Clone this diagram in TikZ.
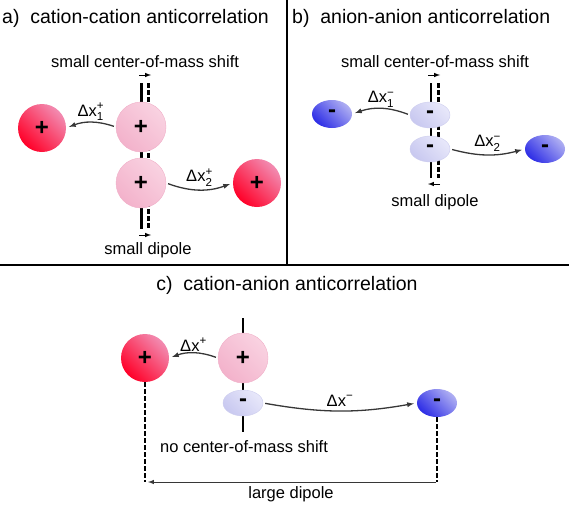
\documentclass[tikz,border=0pt]{standalone}
\usepackage{amsmath}
\usepackage{fontspec}
\setmainfont{Liberation Sans}
\usepackage{xcolor}
\usepackage{tikz}
\usetikzlibrary{arrows}
\usetikzlibrary{calc}
\usetikzlibrary{positioning}
\usetikzlibrary{shapes.geometric}

\definecolor{redlo}{RGB}{255,0,40}
\definecolor{redhi}{RGB}{242,140,178}
\definecolor{pinklo}{RGB}{243,178,203}
\definecolor{pinkhi}{RGB}{249,210,225}
\definecolor{pinkrim}{RGB}{240,175,200}
\definecolor{bluelo}{RGB}{45,45,230}
\definecolor{bluehi}{RGB}{175,175,242}
\definecolor{lavlo}{RGB}{200,200,240}
\definecolor{lavhi}{RGB}{232,232,250}
\definecolor{lavrim}{RGB}{205,205,238}
\definecolor{hopgray}{RGB}{55,55,55}

\newcommand{\ttlfont}{\fontsize{19.5}{22}\selectfont}
\newcommand{\lblfont}{\fontsize{16.5}{19}\selectfont}
\newcommand{\chgfont}{\fontsize{24}{24}\selectfont\bfseries}

\begin{document}
\begin{tikzpicture}
[
	x = 1pt, y = -1pt,
	cat/.style	= {circle, minimum size = 48pt, inner sep = 0pt, top color = redhi, bottom color = redlo, shading angle = -45, font = \chgfont},
	pcat/.style	= {circle, draw = pinkrim, minimum size = 50pt, inner sep = 0pt, top color = pinkhi, bottom color = pinklo, shading angle = -45, font = \chgfont},
	ani/.style	= {ellipse, minimum width = 40pt, minimum height = 28pt, inner sep = 0pt, top color = bluehi, bottom color = bluelo, shading angle = -45, font = \chgfont},
	pani/.style	= {ellipse, draw = lavrim, minimum width = 40pt, minimum height = 26pt, inner sep = 0pt, top color = lavhi, bottom color = lavlo, shading angle = -45, font = \chgfont},
	hop/.style	= {-latex, draw = hopgray, line width = 1.3pt, shorten < = 2pt, shorten > = 3pt},
	lbl/.style	= {font = \lblfont, inner sep = 1pt},
	ttl/.style	= {font = \ttlfont, inner sep = 1pt},
	rod/.style	= {line width = 2.6pt},
	ghostrod/.style	= {line width = 2.6pt, dash pattern = on 4.5pt off 2.5pt},
	nudge/.style	= {-latex, line width = 1pt},
	frame/.style	= {line width = 2.6pt},
]

	\useasboundingbox (0,0) rectangle (569,506);

	% frame
	\coordinate (fL) at (0,265);
	\coordinate (fR) at (569,265);
	\coordinate (fT) at (287,0);
	\coordinate (fB) at (287,265);
	\draw [frame] (fL) -- (fR);
	\draw [frame] (fT) -- (fB);

	% a) cation-cation
	\coordinate (rA1) at (141.5,83);
	\coordinate (rA2) at (141.5,229);
	\coordinate (gA1) at (148.5,83);
	\coordinate (gA2) at (148.5,229);
	\draw [rod] (rA1) -- (rA2);
	\draw [ghostrod] (gA1) -- (gA2);
	%
	\node (ttlA) [ttl, anchor = west] at (1,18) {a)\ \ cation-cation anticorrelation};
	\node (comA) [lbl] at (145,62) {small center-of-mass shift};
	\node (pcA1) [pcat] at (141,127) {+};
	\node (pcA2) [pcat] at (141,183) {+};
	\node (rcA1) [cat] at (42,128) {+};
	\node (rcA2) [cat] at (257,183) {+};
	\node (dipA) [lbl] at (148,250) {small dipole};
	%
	\coordinate (nA1) at (139,75);
	\coordinate (nA2) at (151,75);
	\coordinate (nA3) at (139,235);
	\coordinate (nA4) at (151,235);
	\draw [nudge] (nA1) -- (nA2);
	\draw [nudge] (nA3) -- (nA4);
	%
	\draw [hop] (pcA1.west) to [bend right = 20] node [lbl, above] {\(\text{Δx}^{\text{+}}_{\text{1}}\)} (rcA1.east);
	\draw [hop] (pcA2.east) to [bend right = 20] node [lbl, above = 2pt] {\(\text{Δx}^{\text{+}}_{\text{2}}\)} (rcA2.west);

	% b) anion-anion
	\coordinate (rB1) at (431,83);
	\coordinate (rB2) at (431,178);
	\coordinate (gB1) at (438.5,83);
	\coordinate (gB2) at (438.5,178);
	\draw [rod] (rB1) -- (rB2);
	\draw [ghostrod] (gB1) -- (gB2);
	%
	\node (ttlB) [ttl, anchor = west] at (291,18) {b)\ \ anion-anion anticorrelation};
	\node (comB) [lbl] at (435,62) {small center-of-mass shift};
	\node (paB1) [pani] at (430,115) {-};
	\node (paB2) [pani] at (430,149) {-};
	\node (baB1) [ani] at (332,114) {-};
	\node (baB2) [ani] at (545,149) {-};
	\node (dipB) [lbl] at (435,202) {small dipole};
	%
	\coordinate (nB1) at (428,75);
	\coordinate (nB2) at (440,75);
	\coordinate (nB3) at (440,184);
	\coordinate (nB4) at (428,184);
	\draw [nudge] (nB1) -- (nB2);
	\draw [nudge] (nB3) -- (nB4);
	%
	\draw [hop] (paB1.west) to [bend right = 20] node [lbl, above] {\(\text{Δx}^{\text{−}}_{\text{1}}\)} (baB1.east);
	\draw [hop] (paB2.east) to [bend right = 15] node [lbl, above = 2pt] {\(\text{Δx}^{\text{−}}_{\text{2}}\)} (baB2.west);

	% c) cation-anion
	\coordinate (rC1) at (243,318);
	\coordinate (rC2) at (243,432);
	\draw [rod] (rC1) -- (rC2);
	%
	\node (ttlC) [ttl] at (287,285) {c)\ \ cation-anion anticorrelation};
	\node (pcC) [pcat] at (243,358) {+};
	\node (paC) [pani] at (243,403) {-};
	\node (rcC) [cat] at (145,358) {+};
	\node (baC) [ani] at (437,403) {-};
	\node (comC) [lbl] at (244,447) {no center-of-mass shift};
	%
	\draw [hop] (pcC.west) to [bend right = 20] node [lbl, above] {\(\text{Δx}^{\text{+}}\)} (rcC.east);
	\draw [hop] (paC.east) to [bend right = 10] node [lbl, above = 3pt] {\(\text{Δx}^{\text{−}}\)} (baC.west);
	%
	\coordinate (dL) at (145,482);
	\coordinate (dR) at (437,482);
	\draw [ghostrod] (rcC.south) -- (dL);
	\draw [ghostrod] (baC.south) -- (dR);
	\draw [hop, line width = 1pt, shorten < = 1pt, shorten > = 3pt] (dR) -- node [lbl, below = 3pt] {large dipole} (dL);

\end{tikzpicture}
\end{document}
